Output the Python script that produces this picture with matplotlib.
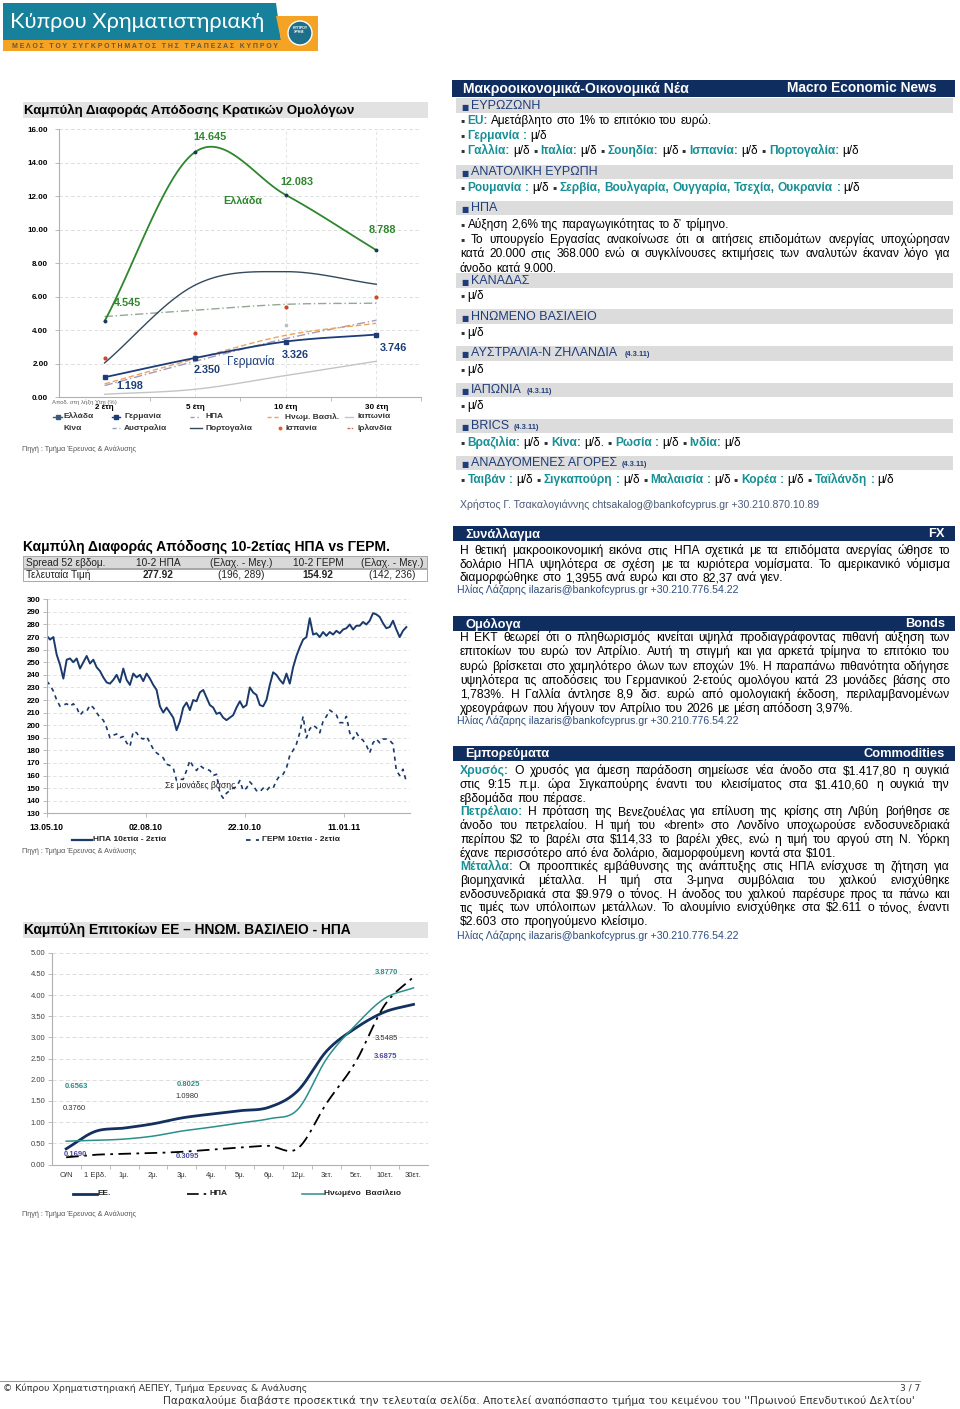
import numpy as np
import pandas as pd
import matplotlib
matplotlib.use('Agg')
import matplotlib.pyplot as plt
from matplotlib.patches import Rectangle, Polygon, Ellipse
from matplotlib.lines import Line2D

plt.rcParams['font.family'] = ['Liberation Sans', 'DejaVu Sans']
plt.rcParams['axes.unicode_minus'] = False

# ================= DATA =================
# Chart 1: government bond yield curves (%)
tenors = ['2 έτη', '5 έτη', '10 έτη', '30 έτη']
greece = [4.545, 14.645, 12.083, 8.788]
germany = [1.198, 2.350, 3.326, 3.746]
usa = [0.70, 2.15, 3.50, 4.60]
uk = [0.80, 2.30, 3.70, 4.42]
japan = [0.18, 0.48, 1.30, 2.15]
china = [np.nan, np.nan, 4.30, np.nan]
australia = [4.82, 5.20, 5.55, 5.62]
portugal = [2.05, 6.70, 7.50, 6.75]
spain = [2.37, 3.84, 5.40, 6.00]
ireland = [np.nan, np.nan, np.nan, np.nan]

# Chart 2: 10y-2y spread, basis points
spread_start, spread_end = '2010-05-13', '2011-03-03'
us_spread = [271, 268, 270, 256, 248, 237, 252, 253, 250, 253,
             245, 250, 255, 249, 252, 246, 243, 238, 234, 233,
             236, 240, 234, 245, 236, 232, 241, 238, 240, 235,
             241, 237, 232, 228, 215, 210, 214, 210, 206, 196,
             203, 214, 218, 212, 220, 219, 226, 228, 222, 216,
             214, 209, 210, 206, 204, 206, 208, 214, 219, 214,
             216, 230, 226, 224, 216, 215, 220, 232, 242, 240,
             236, 233, 241, 233, 246, 255, 262, 268, 270, 285,
             272, 273, 270, 274, 271, 274, 272, 275, 273, 276,
             277, 280, 276, 279, 279, 282, 280, 283, 289, 288,
             286, 281, 277, 278, 283, 276, 270, 275, 277.92]
de_spread = [235, 232, 227, 220, 215, 216, 217, 215, 217, 214,
             208, 211, 211, 216, 214, 210, 206, 204, 198, 190,
             192, 193, 190, 191, 186, 183, 195, 194, 190, 189,
             191, 186, 181, 178, 176, 174, 169, 168, 166, 156,
             157, 157, 164, 172, 167, 164, 168, 166, 165, 164,
             160, 161, 146, 142, 146, 148, 150, 151, 156, 148,
             150, 155, 152, 148, 147, 150, 148, 151, 150, 156,
             160, 161, 166, 176, 180, 185, 194, 207, 190, 197,
             200, 198, 194, 203, 207, 212, 210, 208, 202, 202,
             207, 194, 189, 194, 190, 188, 184, 178, 186, 189,
             186, 189, 189, 188, 185, 164, 160, 165, 154.92]
spread_ticks = ['2010-05-13', '2010-08-02', '2010-10-22', '2011-01-11']
table_head = ['Spread 52 εβδομ.', '10-2 ΗΠΑ', '(Ελαχ. - Μεγ.)', '10-2 ΓΕΡΜ', '(Ελαχ. - Μεγ.)']
table_row = ['Τελευταία Τιμή', '277.92', '(196, 289)', '154.92', '(142, 236)']

# Chart 3: money market / yield curves (%)
rate_tenors = ['O/N', '1 Εβδ.', '1μ.', '2μ.', '3μ.', '4μ.', '5μ.', '6μ.', '12μ.',
               '3ετ.', '5ετ.', '10ετ.', '30ετ.']
eu_rates = [0.37, 0.78, 0.86, 0.96, 1.10, 1.19, 1.27, 1.35, 1.74, 2.68, 3.22, 3.60, 3.78]
uk_rates = [0.55, 0.57, 0.60, 0.67, 0.79, 0.88, 0.98, 1.08, 1.30, 2.50, 3.29, 3.92, 4.17]
us_rates = [0.17, 0.23, 0.25, 0.27, 0.30, 0.35, 0.40, 0.44, 0.38, 1.45, 2.42, 3.76, 4.43]
rate_notes = ['3.8770', '3.5485', '3.6875', '0.6563', '0.8025', '1.0980', '0.3760', '0.1690', '0.3095']

# ================= FIGURE HELPERS =================
W, H = 960, 1409
fig = plt.figure(figsize=(W / 100, H / 100), dpi=100)
fig.patch.set_facecolor('white')
R = fig.canvas.get_renderer()

NAVY = '#0f2d5e'
HNAVY = '#1f3d7a'
TEAL = '#178f95'
GREEN = '#2e862e'
GBAND = '#e2e2e2'


def fx(x):
    return x / W


def fy(y):
    return 1 - y / H


def rect(x0, y0, x1, y1, fc, ec='none', lw=0, z=0):
    fig.add_artist(Rectangle((fx(x0), fy(y1)), (x1 - x0) / W, (y1 - y0) / H,
                             transform=fig.transFigure, facecolor=fc,
                             edgecolor=ec, linewidth=lw, zorder=z))


def fline(x0, y0, x1, y1, **kw):
    fig.add_artist(Line2D([fx(x0), fx(x1)], [fy(y0), fy(y1)],
                          transform=fig.transFigure, **kw))


def txt(x, y, s, fs, color='black', weight='normal', ha='left', va='center',
        family=None, z=5):
    kw = dict(fontsize=fs, color=color, fontweight=weight, ha=ha, va=va, zorder=z)
    if family is not None:
        kw['family'] = family
    return fig.text(fx(x), fy(y), s, **kw)


def width(s, fs, weight='normal', family=None):
    t = txt(0, 500, s, fs, weight=weight, family=family)
    w = t.get_window_extent(R).width
    t.remove()
    return w


def fit(x0, x1, y, s, fs, ha='left', color='black', weight='normal', family=None):
    w = width(s, fs, weight, family)
    fs2 = fs * (x1 - x0) / w
    x = x0 if ha == 'left' else (x1 if ha == 'right' else (x0 + x1) / 2)
    return txt(x, y, s, fs2, color=color, weight=weight, ha=ha, family=family)


def rich(x0, y, segs, fs, x1=None, family=None):
    toks = []
    for s, c, w in segs:
        for word in s.split(' '):
            if word:
                toks.append((word, c, w))
    ws = [width(t, fs, w, family) for t, c, w in toks]
    sp = width('n n', fs, family=family) - width('nn', fs, family=family)
    gap = sp
    if x1 is not None and len(toks) > 1:
        gap = (x1 - x0 - sum(ws)) / (len(toks) - 1)
        if gap < 0.55 * sp:
            return rich(x0, y, segs, fs * 0.97, x1, family)
    x = x0
    yb = y + 0.36 * fs * 100 / 72
    for (t, c, w), wd in zip(toks, ws):
        txt(x, yb, t, fs, color=c, weight=w, va='baseline', family=family)
        x += wd + gap


def add_ax(x0, y0, x1, y1):
    ax = fig.add_axes([fx(x0), fy(y1), (x1 - x0) / W, (y1 - y0) / H])
    ax.set_facecolor('none')
    return ax


def smooth(vals, n=30):
    v = np.asarray(vals, float)
    m = len(v)
    xs, ys = [], []
    for i in range(m - 1):
        p1, p2 = v[i], v[i + 1]
        p0 = v[i - 1] if i > 0 else 2 * p1 - p2
        p3 = v[i + 2] if i + 2 < m else 2 * p2 - p1
        t = np.linspace(0, 1, n, endpoint=(i == m - 2))
        y = 0.5 * (2 * p1 + (-p0 + p2) * t + (2 * p0 - 5 * p1 + 4 * p2 - p3) * t ** 2
                   + (-p0 + 3 * p1 - 3 * p2 + p3) * t ** 3)
        xs.append(i + t)
        ys.append(y)
    return np.concatenate(xs), np.concatenate(ys)


# ================= HEADER LOGO =================
fig.add_artist(Polygon([(fx(3), fy(3)), (fx(276), fy(3)), (fx(281), fy(40)), (fx(3), fy(40))],
                       closed=True, transform=fig.transFigure, facecolor='#17809a',
                       edgecolor='none', zorder=1))
fig.add_artist(Polygon([(fx(276), fy(16)), (fx(318), fy(16)), (fx(318), fy(51)),
                        (fx(3), fy(51)), (fx(3), fy(40)), (fx(281), fy(40))],
                       closed=True, transform=fig.transFigure, facecolor='#f4a324',
                       edgecolor='none', zorder=1))
fig.add_artist(Ellipse((fx(300), fy(33)), 24 / W, 24 / H, transform=fig.transFigure,
                       facecolor='#1d6f8a', edgecolor='white', lw=1.0, zorder=2))
txt(300, 30, 'ΚΥΠΡΟΥ\nΧΡΗΜ.', 2.6, color='white', weight='bold', ha='center', z=3)
fit(10, 264, 22, 'Κύπρου Χρηματιστηριακή', 20, color='white',
    family=['Lato', 'DejaVu Sans'])
fit(12, 276, 46, 'Μ Ε Λ Ο Σ   Τ Ο Υ   Σ Υ Γ Κ Ρ Ο Τ Η Μ Α Τ Ο Σ   Τ Η Σ   Τ Ρ Α Π Ε Ζ Α Σ   Κ Υ Π Ρ Ο Υ',
    4, color='#6a5630', weight='bold')

# ================= CHART 1 =================
rect(23, 102, 428, 118, GBAND)
fit(24, 355, 110, 'Καμπύλη Διαφοράς Απόδοσης Κρατικών Ομολόγων', 9.5, weight='bold')

ax1 = add_ax(59.3, 129.3, 421.5, 397.3)
ax1.set_xlim(-0.5, 3.5)
ax1.set_ylim(0, 16)
for s in ['top', 'right']:
    ax1.spines[s].set_visible(False)
for s in ['left', 'bottom']:
    ax1.spines[s].set_color('#b0b0b0')
    ax1.spines[s].set_linewidth(0.8)
ax1.set_yticks(np.arange(0, 17, 2))
ax1.set_yticklabels(['%.2f' % v for v in np.arange(0, 17, 2)], fontsize=5.8, fontweight='bold')
ax1.tick_params(axis='y', length=3, width=0.6, color='#b0b0b0', pad=5)
ax1.set_xticks(range(4))
ax1.set_xticklabels(tenors, fontsize=5.8, fontweight='bold')
ax1.tick_params(axis='x', length=0, pad=4.5)
ax1.set_xticks([0.5, 1.5, 2.5, 3.5], minor=True)
ax1.tick_params(axis='x', which='minor', length=3, color='#b0b0b0', width=0.6)
for v in np.arange(2, 17, 2):
    ax1.axhline(v, color='#d8d8d8', lw=0.6, ls=(0, (4, 3)), zorder=0)
for v in [1, 2, 3]:
    ax1.axvline(v, color='#e0e0e0', lw=0.6, ls=(0, (4, 3)), zorder=0)

xj, yj = smooth(japan)
ax1.plot(xj, yj, color='#c4c4c4', lw=1.0)
xa, ya = smooth(australia)
ax1.plot(xa, ya, color='#93a893', lw=1.0, ls=(0, (6, 2, 1, 2)))
xu, yu = smooth(usa)
ax1.plot(xu, yu, color='#a898b8', lw=1.0, ls=(0, (6, 2, 1, 2)))
xk, yk = smooth(uk)
ax1.plot(xk, yk, color='#eea458', lw=1.0, ls=(0, (4, 2)))
xp, yp = smooth(portugal)
ax1.plot(xp, yp, color='#34495e', lw=1.0)
xg, yg = smooth(germany)
ax1.plot(xg, yg, color='#1d3d78', lw=1.3)
ax1.plot(range(4), germany, 's', ms=2.2, color='#1d3d78')
xgr, ygr = smooth(greece)
ax1.plot(xgr, ygr, color=GREEN, lw=1.3)
ax1.plot(range(4), greece, 'o', ms=1.8, color='#1a3a5a')
ax1.plot(range(4), spain, 'o', ms=2.0, color='#d0452a', ls='none')
ax1.plot(range(4), china, 'o', ms=1.6, color='#bbbbbb', ls='none')
ax1.plot(range(4), ireland, 'o', ms=1.6, color='#c03030', ls='none')

for x, y, s in [(210, 137, '14.645'), (297, 182, '12.083'), (382, 230, '8.788'),
                (127, 303, '4.545')]:
    txt(x, y, s, 7.8, color=GREEN, weight='bold', ha='center')
txt(243, 201, 'Ελλάδα', 7.8, color=GREEN, weight='bold', ha='center')
for x, y, s in [(393, 348, '3.746'), (295, 355, '3.326'), (207, 370, '2.350'), (130, 386, '1.198')]:
    txt(x, y, s, 7.8, color='#1d3d78', weight='bold', ha='center')
txt(251, 362, 'Γερμανία', 8.6, color='#1d3d78', weight='normal', ha='center')
txt(52, 402, 'Αποδ. στη λήξη Ytm (%)', 4.3, color='#666666')

leg_fs = 6.0
legend1 = [
    (53, 62, 63, 417, 'Ελλάδα', dict(color='#3d5a78', lw=1.0), 's'),
    (112, 120, 124, 417, 'Γερμανία', dict(color='#1d3d78', lw=1.0), 's'),
    (190, 200, 205, 417, 'ΗΠΑ', dict(color='#a898b8', lw=1.0, ls=(0, (3, 2, 1, 2))), None),
    (267, 280, 285, 417, 'Ηνωμ. Βασιλ.', dict(color='#eea458', lw=1.0, ls=(0, (3, 2))), None),
    (345, 353, 357, 417, 'Ιαπωνία', dict(color='#c4c4c4', lw=1.0), None),
    (None, None, 63, 428, 'Κίνα', None, None),
    (112, 120, 124, 428, 'Αυστραλία', dict(color='#93a0b8', lw=1.0, ls=(0, (3, 2))), None),
    (190, 202, 205, 428, 'Πορτογαλία', dict(color='#34495e', lw=1.0), None),
    (None, None, 285, 428, 'Ισπανία', None, 'dot'),
    (347, 353, 357, 428, 'Ιρλανδία', dict(color='#d06060', lw=1.0, ls=(0, (2, 1, 1, 1))), None),
]
for x0, x1, xt, y, lab, st, mk in legend1:
    if st is not None:
        fline(x0, y, x1, y, **st)
    if mk == 's':
        fig.add_artist(Line2D([fx((x0 + x1) / 2)], [fy(y)], marker='s', ms=2.2,
                              color=st['color'], transform=fig.transFigure))
    if mk == 'dot':
        fig.add_artist(Line2D([fx(280)], [fy(y)], marker='o', ms=1.8,
                              color='#e0602a', transform=fig.transFigure))
    txt(xt, y, lab, leg_fs, color='#333333', weight='bold')
txt(22, 449, 'Πηγή : Τμήμα Έρευνας & Ανάλυσης', 5.2, color='#555555')

# ================= NEWS (right top) =================
rect(452, 80, 955, 97, NAVY)
fit(463, 690, 88.5, 'Μακροοικονομικά-Οικονομικά Νέα', 9.5, color='white', weight='bold')
fit(787, 937, 88.5, 'Macro Economic News', 9.5, color='white', weight='bold')


def sec_header(y, title, extra=None):
    rect(456, y - 7.5, 953, y + 7, '#dcdcdc')
    txt(461, y + 1.5, '■', 5.5, color=HNAVY, family=['DejaVu Sans'])
    txt(471, y, title, 9, color=HNAVY)
    if extra:
        w = width(title, 9)
        txt(471 + w + 5, y + 1, extra, 5.3, color=HNAVY, weight='bold')


BUL = ('▪', '#333333', 'normal')
K = 'black'
fs_n = 8.6
sec_header(106, 'ΕΥΡΩΖΩΝΗ')
rich(460, 120, [BUL, ('EU:', TEAL, 'bold'), ('Αμετάβλητο στο 1% το επιτόκιο του ευρώ.', K, 'normal')], fs_n)
rich(460, 134.5, [BUL, ('Γερμανία :', TEAL, 'bold'), ('μ/δ', K, 'normal')], fs_n)
rich(460, 149.5, [BUL, ('Γαλλία:', TEAL, 'bold'), ('μ/δ', K, 'normal'), BUL,
                  ('Ιταλία:', TEAL, 'bold'), ('μ/δ', K, 'normal'), BUL,
                  ('Σουηδία:', TEAL, 'bold'), ('μ/δ', K, 'normal'), BUL,
                  ('Ισπανία:', TEAL, 'bold'), ('μ/δ', K, 'normal'), BUL,
                  ('Πορτογαλία:', TEAL, 'bold'), ('μ/δ', K, 'normal')], fs_n)
sec_header(172, 'ΑΝΑΤΟΛΙΚΗ ΕΥΡΩΠΗ')
rich(460, 187, [BUL, ('Ρουμανία :', TEAL, 'bold'), ('μ/δ', K, 'normal'), BUL,
                ('Σερβία, Βουλγαρία, Ουγγαρία, Τσεχία, Ουκρανία :', TEAL, 'bold'),
                ('μ/δ', K, 'normal')], fs_n)
sec_header(208, 'ΗΠΑ')
rich(460, 223.5, [BUL, ('Αύξηση 2,6% της παραγωγικότητας το δ’ τρίμηνο.', K, 'normal')], fs_n)
rich(460, 238.5, [BUL, ('Το υπουργείο Εργασίας ανακοίνωσε ότι οι αιτήσεις επιδομάτων ανεργίας υποχώρησαν', K, 'normal')], fs_n, x1=950)
rich(460, 253, [('κατά 20.000 στις 368.000 ενώ οι συγκλίνουσες εκτιμήσεις των αναλυτών έκαναν λόγο για', K, 'normal')], fs_n, x1=950)
rich(460, 267.5, [('άνοδο κατά 9.000.', K, 'normal')], fs_n)
sec_header(280.5, 'ΚΑΝΑΔΑΣ')
rich(460, 295, [BUL, ('μ/δ', K, 'normal')], fs_n)
sec_header(316.5, 'ΗΝΩΜΕΝΟ ΒΑΣΙΛΕΙΟ')
rich(460, 331.5, [BUL, ('μ/δ', K, 'normal')], fs_n)
sec_header(353.5, 'ΑΥΣΤΡΑΛΙΑ-Ν ΖΗΛΑΝΔΙΑ ', '(4.3.11)')
rich(460, 368.5, [BUL, ('μ/δ', K, 'normal')], fs_n)
sec_header(390, 'ΙΑΠΩΝΙΑ', '(4.3.11)')
rich(460, 405, [BUL, ('μ/δ', K, 'normal')], fs_n)
sec_header(426, 'BRICS', '(4.3.11)')
rich(460, 441.5, [BUL, ('Βραζιλία:', TEAL, 'bold'), ('μ/δ', K, 'normal'), BUL,
                  ('Κίνα:', TEAL, 'bold'), ('μ/δ.', K, 'normal'), BUL,
                  ('Ρωσία :', TEAL, 'bold'), ('μ/δ', K, 'normal'), BUL,
                  ('Ινδία:', TEAL, 'bold'), ('μ/δ', K, 'normal')], fs_n)
sec_header(463, 'ΑΝΑΔΥΟΜΕΝΕΣ ΑΓΟΡΕΣ', '(4.3.11)')
rich(460, 478.5, [BUL, ('Ταιβάν :', TEAL, 'bold'), ('μ/δ', K, 'normal'), BUL,
                  ('Σιγκαπούρη :', TEAL, 'bold'), ('μ/δ', K, 'normal'), BUL,
                  ('Μαλαισία :', TEAL, 'bold'), ('μ/δ', K, 'normal'), BUL,
                  ('Κορέα :', TEAL, 'bold'), ('μ/δ', K, 'normal'), BUL,
                  ('Ταϊλάνδη :', TEAL, 'bold'), ('μ/δ', K, 'normal')], fs_n)
txt(460, 505, 'Χρήστος Γ. Τσακαλογιάννης chtsakalog@bankofcyprus.gr +30.210.870.10.89',
    7.6, color='#4a5a78')

# ================= FX / BONDS / COMMODITIES =================
fs_p = 8.75
SIG = 'Ηλίας Λάζαρης ilazaris@bankofcyprus.gr +30.210.776.54.22'


def bar(y0, y1, left, right):
    rect(453, y0, 955, y1, NAVY)
    txt(465, (y0 + y1) / 2 + 0.5, left, 9.3, color='white', weight='bold')
    txt(945, (y0 + y1) / 2 + 0.5, right, 9.3, color='white', weight='bold', ha='right')


def para(y0, step, lines):
    for i, (segs, just) in enumerate(lines):
        rich(460, y0 + i * step, segs, fs_p, x1=950 if just else None)


bar(526, 541, 'Συνάλλαγμα', 'FX')
para(550, 13.4, [
    ([('Η θετική μακροοικονομική εικόνα στις ΗΠΑ σχετικά με τα επιδόματα ανεργίας ώθησε το', K, 'normal')], True),
    ([('δολάριο ΗΠΑ υψηλότερα σε σχέση με τα κυριότερα νομίσματα. Το αμερικανικό νόμισμα', K, 'normal')], True),
    ([('διαμορφώθηκε στο 1,3955 ανά ευρώ και στο 82,37 ανά γιεν.', K, 'normal')], False),
])
txt(457, 590, SIG, 7.6, color='#2d4d80')

bar(616, 631, 'Ομόλογα', 'Bonds')
para(637, 14.1, [
    ([('Η ΕΚΤ θεωρεί ότι ο πληθωρισμός κινείται υψηλά προδιαγράφοντας πιθανή αύξηση των', K, 'normal')], True),
    ([('επιτοκίων του ευρώ τον Απρίλιο. Αυτή τη στιγμή και για αρκετά τρίμηνα το επιτόκιο του', K, 'normal')], True),
    ([('ευρώ βρίσκεται στο χαμηλότερο όλων των εποχών 1%. Η παραπάνω πιθανότητα οδήγησε', K, 'normal')], True),
    ([('υψηλότερα τις αποδόσεις του Γερμανικού 2-ετούς ομολόγου κατά 23 μονάδες βάσης στο', K, 'normal')], True),
    ([('1,783%. Η Γαλλία άντλησε 8,9 δισ. ευρώ από ομολογιακή έκδοση, περιλαμβανομένων', K, 'normal')], True),
    ([('χρεογράφων που λήγουν τον Απρίλιο του 2026 με μέση απόδοση 3,97%.', K, 'normal')], False),
])
txt(457, 721, SIG, 7.6, color='#2d4d80')

bar(746, 761, 'Εμπορεύματα', 'Commodities')
para(770, 13.7, [
    ([('Χρυσός:', TEAL, 'bold'), ('Ο χρυσός για άμεση παράδοση σημείωσε νέα άνοδο στα $1.417,80 η ουγκιά', K, 'normal')], True),
    ([('στις 9:15 π.μ. ώρα Σιγκαπούρης έναντι του κλεισίματος στα $1.410,60 η ουγκιά την', K, 'normal')], True),
    ([('εβδομάδα που πέρασε.', K, 'normal')], False),
    ([('Πετρέλαιο:', TEAL, 'bold'), ('Η πρόταση της Βενεζουέλας για επίλυση της κρίσης στη Λιβύη βοήθησε σε', K, 'normal')], True),
    ([('άνοδο του πετρελαίου. Η τιμή του «brent» στο Λονδίνο υποχωρούσε ενδοσυνεδριακά', K, 'normal')], True),
    ([('περίπου $2 το βαρέλι στα $114,33 το βαρέλι χθες, ενώ η τιμή του αργού στη Ν. Υόρκη', K, 'normal')], True),
    ([('έχανε περισσότερο από ένα δολάριο, διαμορφούμενη κοντά στα $101.', K, 'normal')], False),
    ([('Μέταλλα:', TEAL, 'bold'), ('Οι προοπτικές εμβάθυνσης της ανάπτυξης στις ΗΠΑ ενίσχυσε τη ζήτηση για', K, 'normal')], True),
    ([('βιομηχανικά μέταλλα. Η τιμή στα 3-μηνα συμβόλαια του χαλκού ενισχύθηκε', K, 'normal')], True),
    ([('ενδοσυνεδριακά στα $9.979 ο τόνος. Η άνοδος του χαλκού παρέσυρε προς τα πάνω και', K, 'normal')], True),
    ([('τις τιμές των υπόλοιπων μετάλλων. Το αλουμίνιο ενισχύθηκε στα $2.611 ο τόνος, έναντι', K, 'normal')], True),
    ([('$2.603 στο προηγούμενο κλείσιμο.', K, 'normal')], False),
])
txt(457, 936, SIG, 7.6, color='#2d4d80')

# ================= CHART 2 =================
fit(23, 390, 547, 'Καμπύλη Διαφοράς Απόδοσης 10-2ετίας ΗΠΑ vs ΓΕΡΜ.', 9.5, weight='bold')
rect(23, 556, 427, 568.5, '#d9d9d9', ec='#9a9a9a', lw=0.6)
rect(23, 568.5, 427, 581, 'white', ec='#9a9a9a', lw=0.6)
col_x = [26, 158, 241, 318, 392]
for i, (h, r) in enumerate(zip(table_head, table_row)):
    ha = 'left' if i == 0 else 'center'
    txt(col_x[i], 562.5, h, 7.3, ha=ha, color='#222222')
    txt(col_x[i], 575, r, 7.3, ha=ha, color='#222222',
        weight='bold' if i in (1, 3) else 'normal')

ax2 = add_ax(46.7, 599.3, 410, 813.3)
dates = pd.date_range(spread_start, spread_end, periods=len(us_spread))
ax2.plot(dates, us_spread, color='#1b3a6b', lw=1.4)
ax2.plot(dates, de_spread, color='#1b3a6b', lw=1.2, ls=(0, (2.5, 2.5)))
ax2.set_ylim(130, 300)
ax2.set_xlim(pd.Timestamp('2010-05-13'), pd.Timestamp('2011-03-06'))
ax2.set_yticks(np.arange(130, 301, 10))
ax2.set_yticklabels([str(v) for v in np.arange(130, 301, 10)], fontsize=5.8, fontweight='bold')
ax2.tick_params(axis='y', length=3, width=0.6, color='#b0b0b0', pad=1.5)
tks = pd.to_datetime(spread_ticks)
ax2.set_xticks(tks)
ax2.set_xticklabels([t.strftime('%d.%m.%y') for t in tks], fontsize=6.2, fontweight='bold')
ax2.tick_params(axis='x', length=3, width=0.6, color='#b0b0b0', pad=4)
for v in np.arange(140, 301, 10):
    ax2.axhline(v, color='#dcdcdc', lw=0.6, ls=(0, (4, 3)), zorder=0)
for s in ['top', 'right']:
    ax2.spines[s].set_visible(False)
for s in ['left', 'bottom']:
    ax2.spines[s].set_color('#b0b0b0')
    ax2.spines[s].set_linewidth(0.8)
txt(200, 786, 'Σε μονάδες βάσης', 6.2, ha='center', color='#222222')
fline(72, 839.5, 92, 839.5, color='#1b3a6b', lw=1.6)
txt(93, 839.5, 'ΗΠΑ 10ετία - 2ετία', 6.0, weight='bold', color='#222222')
fline(246, 839.5, 259, 839.5, color='#1b3a6b', lw=1.3, ls=(0, (2.5, 3)))
txt(262, 839.5, 'ΓΕΡΜ 10ετία - 2ετία', 6.0, weight='bold', color='#222222')
txt(22, 851, 'Πηγή : Τμήμα Έρευνας & Ανάλυσης', 5.2, color='#555555')

# ================= CHART 3 =================
rect(23, 922, 428, 938, GBAND)
fit(24, 353, 930, 'Καμπύλη Επιτοκίων ΕΕ – ΗΝΩΜ. ΒΑΣΙΛΕΙΟ - ΗΠΑ', 9.5, weight='bold')
ax3 = add_ax(51.7, 952.7, 428, 1164.5)
ax3.set_xlim(-0.5, 12.5)
ax3.set_ylim(0, 5)
for v in np.arange(0.5, 5.01, 0.5):
    ax3.axhline(v, color='#d8d8d8', lw=0.6, ls=(0, (5, 3)), zorder=0)
xe, ye = smooth(eu_rates)
ax3.plot(xe, ye, color='#14305e', lw=2.0)
xuu, yuu = smooth(us_rates)
ax3.plot(xuu, yuu, color='black', lw=1.3, ls=(0, (7, 3, 1.5, 3)))
xkk, ykk = smooth(uk_rates)
ax3.plot(xkk, ykk, color='#2a8f8a', lw=1.1)
ax3.set_yticks(np.arange(0, 5.01, 0.5))
ax3.set_yticklabels(['%.2f' % v for v in np.arange(0, 5.01, 0.5)], fontsize=5.5, color='#404040')
ax3.tick_params(axis='y', length=3, width=0.6, color='#b0b0b0', pad=1.5)
ax3.set_xticks(range(13))
ax3.set_xticklabels(rate_tenors, fontsize=5.5, color='#333333')
ax3.tick_params(axis='x', length=0, pad=5.5)
ax3.set_xticks(np.arange(0.5, 12.5, 1), minor=True)
ax3.tick_params(axis='x', which='minor', length=3, color='#b0b0b0', width=0.6)
for s in ['top', 'right']:
    ax3.spines[s].set_visible(False)
for s in ['left', 'bottom']:
    ax3.spines[s].set_color('#b0b0b0')
    ax3.spines[s].set_linewidth(0.8)
note_style = [(387, 972, '#2a8f8a'), (386, 1038, '#333333'), (386, 1056, '#4a4aa0'),
              (76, 1087, '#2a8f8a'), (188, 1085, '#2a8f8a'), (187, 1097, '#333333'),
              (74, 1109, '#333333'), (75, 1155, '#4a4aa0'), (187, 1157, '#4a4aa0')]
for (x, y, c), s in zip(note_style, rate_notes):
    txt(x, y, s, 5.5, color=c, ha='center', weight='bold' if c != '#333333' else 'normal')
fline(73, 1193.5, 97, 1193.5, color='#14305e', lw=2.0)
txt(97.5, 1193.5, 'EE.', 6.0, weight='bold', color='#222222')
fline(187, 1193.5, 207, 1193.5, color='black', lw=1.2, ls=(0, (7, 3, 1.5, 3)))
txt(209, 1193.5, 'ΗΠΑ', 6.0, weight='bold', color='#222222')
fline(302, 1193.5, 324, 1193.5, color='#2a8f8a', lw=1.1)
txt(324.5, 1193.5, 'Ηνωμένο  Βασίλειο', 6.0, weight='bold', color='#222222')
txt(22, 1214, 'Πηγή : Τμήμα Έρευνας & Ανάλυσης', 5.2, color='#555555')

# ================= FOOTER =================
fline(0, 1381, 920, 1381, color='#9a9a9a', lw=0.8)
NARROW = ['Liberation Sans Narrow', 'DejaVu Sans']
fit(3, 310, 1388, '© Κύπρου Χρηματιστηριακή ΑΕΠΕΥ, Τμήμα Έρευνας & Ανάλυσης', 6.5,
    color='#333333', family=NARROW)
txt(920, 1388, '3 / 7', 6.5, color='#333333', ha='right', family=NARROW)
fit(163, 907, 1401,
    "Παρακαλούμε διαβάστε προσεκτικά την τελευταία σελίδα. Αποτελεί αναπόσπαστο τμήμα του κειμένου του ''Πρωινού Επενδυτικού Δελτίου'",
    8.0, color='#333333', family=NARROW)

fig.savefig('out.png', dpi=100, facecolor='white')
